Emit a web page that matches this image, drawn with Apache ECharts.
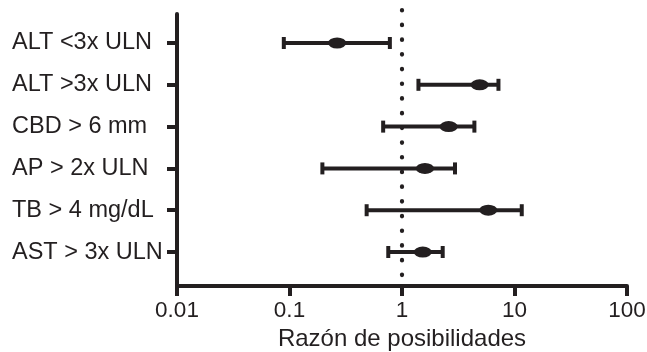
<!DOCTYPE html>
<html>
<head>
<meta charset="utf-8">
<script src="https://cdn.jsdelivr.net/npm/echarts@6/dist/echarts.min.js"></script>
<style>html,body{margin:0;padding:0;background:#fff}#c{width:647px;height:352px}</style>
</head>
<body>
<div id="c"></div>
<script>
const categories = ['ALT <3x ULN', 'ALT >3x ULN', 'CBD > 6 mm', 'AP > 2x ULN', 'TB > 4 mg/dL', 'AST > 3x ULN'];
const oddsRatio = [0.265, 4.9, 2.6, 1.6, 5.85, 1.53];
const ciLower = [0.089, 1.40, 0.68, 0.196, 0.485, 0.755];
const ciUpper = [0.78, 7.2, 4.4, 2.96, 11.6, 2.30];
const xTicks = [0.01, 0.1, 1, 10, 100];
const xName = 'Razón de posibilidades';
const refValue = [1];

const ink = '#231f20';
const font = 'Liberation Sans, Arial, sans-serif';
const idx = categories.map((c, i) => i);

const chart = echarts.init(document.getElementById('c'));
chart.setOption({
  animation: false,
  backgroundColor: '#fff',
  grid: { left: 177, right: 20, top: 14, bottom: 66, containLabel: false, outerBoundsMode: 'none' },
  xAxis: {
    type: 'log', logBase: 10, min: xTicks[0], max: xTicks[xTicks.length - 1],
    name: xName, nameLocation: 'middle', nameGap: 39,
    nameTextStyle: { fontFamily: font, fontSize: 24, color: ink },
    axisLine: { onZero: false, lineStyle: { color: ink, width: 4 } },
    axisTick: { length: 10, lineStyle: { color: ink, width: 4 } },
    minorTick: { show: false },
    splitLine: { show: false },
    axisLabel: { fontFamily: font, fontSize: 22.5, color: ink, margin: 13,
      formatter: v => String(v) }
  },
  yAxis: {
    type: 'value', inverse: true, min: -0.694, max: 5.813,
    axisLine: { show: true, onZero: false, lineStyle: { color: ink, width: 4 } },
    axisTick: { show: true, length: 10, customValues: idx, lineStyle: { color: ink, width: 4 } },
    splitLine: { show: false },
    axisLabel: { customValues: idx, fontFamily: font, fontSize: 23.5, color: ink,
      align: 'left', margin: 165, formatter: v => categories[Math.round(v)] || '' }
  },
  series: [
    {
      type: 'custom',
      clip: false,
      silent: true,
      data: refValue.map(v => [v]),
      renderItem: function (params, api) {
        const top = api.coord([api.value(0), -0.79]);
        const bot = api.coord([api.value(0), 5.6]);
        return {
          type: 'line',
          shape: { x1: top[0], y1: top[1], x2: bot[0], y2: bot[1] },
          style: { stroke: ink, lineWidth: 4.2, lineDash: [0.5, 14.2], lineCap: 'round', fill: null }
        };
      },
      z: 1
    },
    {
      type: 'custom',
      clip: false,
      data: idx.map(i => [ciLower[i], ciUpper[i], i]),
      renderItem: function (params, api) {
        const a = api.coord([api.value(0), api.value(2)]);
        const b = api.coord([api.value(1), api.value(2)]);
        const style = { fill: ink };
        return {
          type: 'group',
          children: [
            { type: 'rect', shape: { x: a[0], y: a[1] - 2, width: b[0] - a[0], height: 4 }, style },
            { type: 'rect', shape: { x: a[0] - 2, y: a[1] - 6, width: 4, height: 12 }, style },
            { type: 'rect', shape: { x: b[0] - 2, y: b[1] - 6, width: 4, height: 12 }, style }
          ]
        };
      },
      z: 3
    },
    {
      type: 'scatter',
      clip: false,
      data: idx.map(i => [oddsRatio[i], i]),
      symbol: 'circle',
      symbolSize: [18, 11],
      itemStyle: { color: ink, opacity: 1 },
      z: 5
    }
  ]
});
</script>
</body>
</html>
